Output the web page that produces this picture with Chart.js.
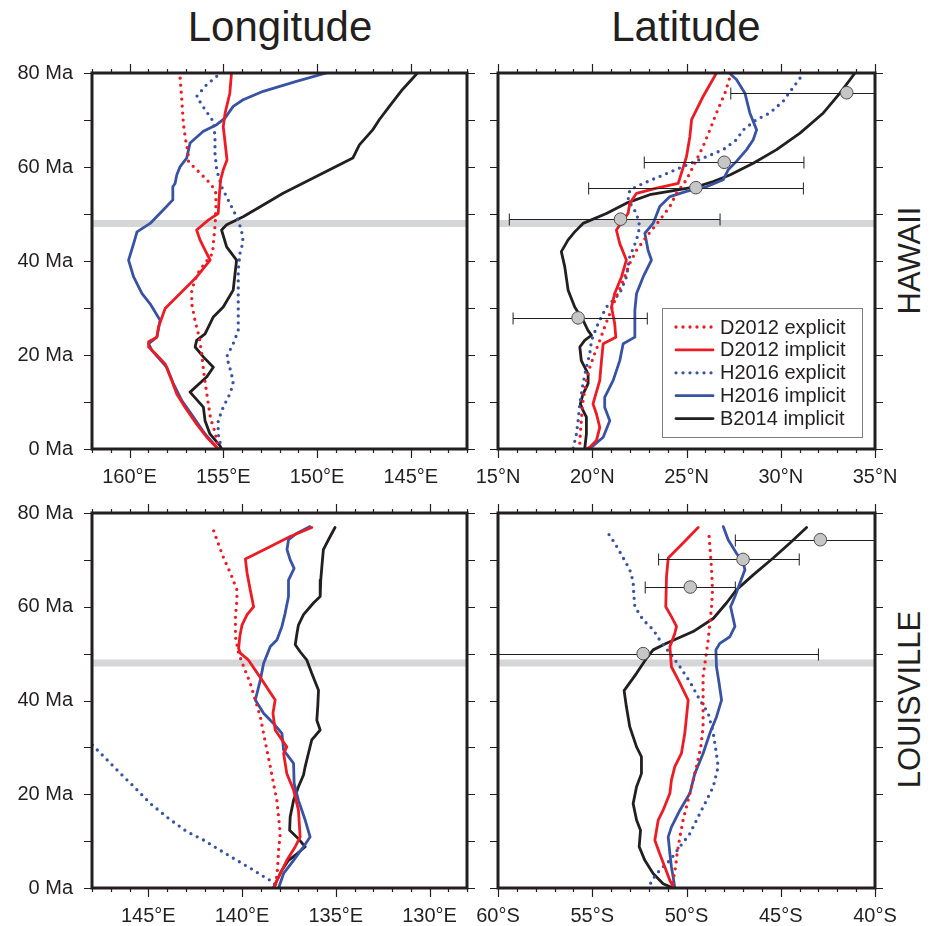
<!DOCTYPE html>
<html>
<head>
<meta charset="utf-8">
<script src="https://cdn.jsdelivr.net/npm/chart.js@4.4.1/dist/chart.umd.min.js"></script>
<style>
  body { margin: 0; background: #fff; width: 934px; height: 926px; position: relative; overflow: hidden;
         font-family: "Liberation Sans", Arial, sans-serif; color: #231f20; }
  canvas { position: absolute; }
  .title { position: absolute; top: 6px; width: 300px; font-size: 42px; line-height: 42px; text-align: center; }
  .side { position: absolute; width: 300px; height: 31px; font-size: 31px; line-height: 31px; text-align: center;
          transform: rotate(-90deg); }
</style>
</head>
<body>
<div class="title" style="left:130px">Longitude</div>
<div class="title" style="left:536px">Latitude</div>
<div class="side" style="left:759px; top:245px">HAWAII</div>
<div class="side" style="left:759px; top:684px">LOUISVILLE</div>

<canvas id="hawLon" width="480" height="500" style="left:0; top:0"></canvas>
<canvas id="hawLat" width="474" height="500" style="left:460px; top:0"></canvas>
<canvas id="louLon" width="480" height="426" style="left:0; top:500px"></canvas>
<canvas id="louLat" width="474" height="426" style="left:460px; top:500px"></canvas>

<script>
// all series are [position, age in Ma]
const seriesNames = ['D2012 explicit', 'D2012 implicit', 'H2016 explicit', 'H2016 implicit', 'B2014 implicit'];

// Hawaii, longitude (deg E)
const hawLonD12exp = [[157.3,78.9],[157.21,74.3],[157.13,69.3],[156.98,65.1],[156.86,62.9],[156.91,61.5],[156.59,60.1],[156.06,58.0],[155.62,56.2],[155.39,54.4],[155.39,50.9],[155.44,47.3],[155.53,43.7],[155.57,41.6],[155.97,39.6],[156.42,37.0],[156.68,33.8],[156.68,30.9],[156.51,27.4],[156.28,23.8],[156.15,20.3],[156.03,16.0],[155.85,11.0],[155.67,6.4],[155.44,3.6],[155.27,0.4]];
const hawLonD12imp = [[154.56,80],[154.65,75.7],[154.9,71.5],[155.0,68.6],[154.9,65.1],[154.8,61.5],[155.0,59.4],[155.14,57.3],[155.2,54.4],[155.27,50.1],[155.8,48.7],[156.42,46.6],[156.24,44.5],[155.97,42.3],[155.7,40.2],[156.42,36.6],[157.3,33.1],[158.1,29.9],[158.45,26.0],[158.54,23.8],[158.98,22.8],[158.98,21.7],[158.63,20.3],[158.1,18.1],[157.75,14.6],[157.48,11.7],[157.04,8.9],[156.42,5.3],[155.88,2.5],[155.44,0.7],[155.27,0]];
const hawLonH16exp = [[155.35,79.3],[155.89,77.5],[156.42,75.0],[155.97,72.2],[155.53,69.7],[155.44,66.5],[155.44,62.9],[155.35,59.4],[155.09,55.8],[154.65,52.3],[154.29,49.4],[154.03,46.6],[153.94,44.1],[154.11,41.6],[154.2,38.1],[154.2,33.1],[154.2,28.1],[154.2,25.2],[154.47,22.4],[154.82,19.6],[154.56,16.0],[154.47,13.9],[154.65,11.7],[155.0,8.9],[155.27,6.0],[155.27,3.2],[155.09,0]];
const hawLonH16imp = [[149.5,80],[151.1,78.2],[152.87,76.1],[153.94,74.3],[154.47,72.9],[154.91,70.4],[155.35,69.0],[156.06,67.6],[156.77,65.1],[156.95,61.9],[157.3,60.1],[157.48,58.3],[157.57,56.5],[157.69,55.8],[157.69,53.0],[158.19,50.9],[158.9,48.0],[159.6,46.2],[159.78,43.7],[160.05,40.2],[159.78,36.6],[159.34,33.1],[158.9,30.9],[158.37,27.4],[158.54,23.8],[158.98,22.4],[158.81,21.0],[158.01,17.4],[157.66,13.9],[157.21,10.3],[156.59,6.8],[155.97,3.2],[155.27,0]];
const hawLonB14imp = [[144.64,80],[145.44,76.5],[146.14,72.9],[146.67,70.1],[147.03,67.9],[147.74,64.7],[148.09,61.9],[149.33,59.4],[150.57,56.9],[151.81,54.4],[152.87,51.9],[153.94,49.4],[154.82,47.7],[155.09,46.6],[154.82,43.0],[154.29,40.2],[154.47,33.8],[155.0,30.2],[155.53,28.1],[155.97,24.5],[156.42,23.1],[156.5,21.7],[156.06,19.6],[155.53,17.4],[155.89,15.3],[156.77,12.1],[156.06,8.9],[155.97,6.0],[155.71,3.2],[155.18,0.7],[155.09,0]];

// Hawaii, latitude (deg N)
const hawLatD12exp = [[27.27,78.7],[27.04,75.7],[26.59,71.5],[26.24,67.9],[25.88,64.4],[25.53,61.5],[25.0,57.3],[24.47,54.4],[24.12,51.6],[23.58,48.7],[22.88,45.2],[22.35,42.3],[21.99,39.5],[21.64,35.9],[21.28,32.4],[20.93,28.8],[20.66,26.0],[20.4,23.1],[20.13,20.3],[19.87,17.4],[19.69,14.6],[19.51,10.3],[19.42,6.0],[19.34,1.8],[19.34,0]];
const hawLatD12imp = [[26.59,80],[25.88,75.0],[25.27,70.1],[25.18,66.5],[25.0,62.2],[24.73,58.7],[24.56,56.5],[23.41,55.5],[22.35,54.4],[21.99,52.3],[21.9,50.1],[21.64,48.7],[21.28,46.6],[21.46,43.7],[21.81,40.2],[21.55,36.6],[21.19,33.1],[21.02,30.2],[21.19,26.7],[21.25,23.8],[20.58,22.4],[20.49,18.8],[20.4,14.6],[20.04,9.6],[20.22,7.5],[20.4,4.6],[20.22,1.8],[19.87,0.4],[19.69,0]];
const hawLatH16exp = [[31.02,78.9],[30.58,76.5],[30.13,74.0],[29.42,71.5],[28.72,70.1],[28.01,67.9],[27.65,65.8],[26.95,63.7],[25.88,61.9],[24.82,60.1],[23.76,58.3],[22.7,56.5],[21.99,55.1],[21.9,53.0],[22.35,50.1],[22.52,47.3],[22.35,44.5],[21.99,40.9],[21.81,36.6],[21.46,33.1],[20.75,30.2],[20.31,26.7],[19.96,23.1],[19.87,20.3],[19.69,17.4],[19.51,13.9],[19.34,9.6],[19.25,6.0],[19.16,3.2],[18.98,0]];
const hawLatH16imp = [[27.27,80],[27.65,78.6],[28.1,75.7],[28.36,71.5],[28.72,67.9],[28.54,65.8],[28.19,63.7],[27.65,61.2],[27.21,59.4],[26.95,57.3],[26.06,55.8],[25.0,54.8],[24.12,53.7],[23.58,51.6],[23.23,48.0],[22.79,45.9],[22.96,42.3],[23.14,40.2],[22.7,36.6],[22.35,33.1],[22.26,29.5],[22.26,23.8],[21.64,22.4],[21.46,18.8],[21.11,14.6],[20.66,11.0],[20.66,8.9],[20.93,6.0],[20.58,2.5],[19.96,0.4],[19.69,0]];
const hawLatB14imp = [[33.94,80],[33.14,75.7],[32.26,71.5],[31.02,67.2],[29.78,63.7],[28.54,60.8],[27.3,58.3],[26.42,56.9],[25.53,55.8],[24.47,55.1],[23.05,54.1],[21.81,52.3],[20.75,50.1],[19.51,48.0],[19.07,46.2],[18.72,44.5],[18.36,42.0],[18.54,38.8],[18.72,33.8],[19.07,30.2],[19.51,27.4],[19.78,25.2],[19.96,24.2],[19.6,23.1],[19.34,21.7],[19.42,18.8],[19.78,16.0],[19.78,13.9],[19.51,11.7],[19.37,9.6],[19.51,8.2],[19.69,6.8],[19.69,3.2],[19.6,0]];

// Louisville, longitude (deg E)
const louLonD12exp = [[141.51,76.2],[141.24,73.2],[140.98,70.4],[140.62,67.2],[140.27,63.6],[140.27,61.5],[140.35,57.9],[140.35,53.6],[140.18,50.1],[139.91,47.2],[139.56,43.7],[139.29,40.1],[139.02,36.5],[138.85,33.0],[138.67,29.4],[138.49,25.9],[138.32,22.3],[138.14,18.7],[138.05,15.2],[137.96,11.6],[138.05,8.0],[138.1,4.5],[138.17,1.6],[138.23,0]];
const louLonD12imp = [[136.28,76.9],[137.43,75.0],[138.67,72.5],[139.82,70.2],[139.73,67.2],[139.56,63.6],[139.38,60.0],[139.73,58.3],[140.0,56.1],[140.12,53.6],[140.18,51.1],[140.09,50.1],[139.65,48.6],[138.94,44.4],[138.23,40.1],[138.35,37.3],[138.23,33.7],[137.87,31.6],[137.61,30.1],[137.78,28.7],[137.61,24.4],[137.25,20.9],[136.99,16.6],[136.9,10.9],[137.16,8.8],[137.61,5.9],[138.14,1.6],[138.32,0]];
const louLonH16exp = [[147.98,30.5],[147.36,28.0],[146.65,25.1],[145.76,21.6],[144.88,18.0],[143.9,14.8],[142.93,12.0],[142.04,10.2],[141.15,8.0],[140.27,5.9],[139.38,3.8],[138.67,2.0],[138.32,1.3],[138.14,0]];
const louLonH16imp = [[136.37,77.1],[137.07,75.7],[137.52,74.3],[137.6,72.2],[137.43,70.0],[137.22,68.2],[137.52,65.7],[137.52,62.2],[137.7,58.6],[137.87,55.8],[138.14,52.9],[138.49,51.5],[138.85,47.9],[139.02,44.4],[139.29,40.1],[138.85,37.3],[138.32,35.1],[137.87,33.0],[137.78,29.4],[137.25,26.6],[137.22,22.3],[136.99,18.7],[136.63,14.5],[136.37,10.9],[136.72,8.8],[137.25,5.9],[137.78,3.1],[138.05,0]];
const louLonB14imp = [[135.04,76.9],[135.39,74.3],[135.66,72.2],[135.74,68.6],[135.8,65.7],[135.83,62.2],[136.19,60.8],[136.72,58.3],[136.99,56.1],[137.07,54.3],[137.16,51.9],[136.9,50.4],[136.54,48.6],[136.28,45.8],[135.92,42.2],[135.96,38.7],[136.01,35.8],[135.83,33.7],[136.28,31.6],[136.46,28.7],[136.63,25.9],[136.72,24.1],[136.99,21.6],[137.25,18.7],[137.43,15.2],[137.46,12.3],[136.99,10.5],[136.63,8.8],[137.07,7.3],[137.52,5.9],[137.87,3.8],[138.14,1.6],[138.32,0]];

// Louisville, latitude (negative = S)
const louLatD12exp = [[-48.8,75.0],[-48.73,71.4],[-48.67,67.9],[-48.62,63.6],[-48.67,60.0],[-48.76,56.5],[-48.85,52.9],[-48.97,49.4],[-49.12,45.1],[-49.12,40.1],[-49.12,34.4],[-49.24,30.1],[-49.47,25.9],[-49.82,20.2],[-50.18,14.5],[-50.35,10.9],[-50.5,7.3],[-50.58,4.5],[-50.71,1.6],[-50.8,0]];
const louLatD12imp = [[-49.38,76.9],[-50.18,73.6],[-50.97,70.4],[-51.06,66.5],[-51.1,60.0],[-50.8,57.9],[-50.53,55.8],[-50.62,54.3],[-50.88,51.5],[-50.8,47.2],[-50.35,43.7],[-49.91,40.1],[-50.0,36.5],[-50.09,33.0],[-50.27,28.7],[-50.62,25.9],[-50.8,23.0],[-50.88,20.2],[-51.24,16.6],[-51.5,14.5],[-51.68,10.2],[-51.42,7.3],[-51.15,4.5],[-50.88,1.6],[-50.67,0]];
const louLatH16exp = [[-54.11,75.4],[-53.81,73.6],[-53.45,71.1],[-53.01,67.9],[-52.83,65.4],[-52.8,62.9],[-52.74,60.0],[-52.3,57.2],[-51.77,55.1],[-51.42,52.9],[-50.88,50.1],[-50.35,47.2],[-49.82,44.0],[-49.29,40.1],[-48.85,37.3],[-48.58,33.0],[-48.44,29.4],[-48.32,25.9],[-48.58,21.6],[-48.94,18.7],[-49.38,15.2],[-49.82,11.6],[-50.35,8.8],[-50.88,5.9],[-51.42,3.8],[-51.77,2.0],[-52.04,0]];
const louLatH16imp = [[-48.05,77.1],[-47.79,74.3],[-47.35,71.4],[-46.99,69.3],[-46.9,67.9],[-47.17,65.0],[-47.43,62.2],[-47.66,60.0],[-47.43,55.8],[-47.7,53.6],[-48.23,52.2],[-48.44,50.8],[-48.41,47.2],[-48.27,43.7],[-48.14,40.1],[-48.41,36.5],[-48.76,33.0],[-49.12,28.7],[-49.56,24.4],[-49.82,20.2],[-50.35,16.6],[-50.8,13.0],[-50.97,10.9],[-50.88,7.3],[-50.8,4.5],[-50.71,2.4],[-50.62,0]];
const louLatB14imp = [[-43.63,76.9],[-44.51,73.6],[-45.4,70.4],[-46.46,66.8],[-47.35,63.6],[-47.88,60.8],[-48.58,57.5],[-49.65,54.7],[-51.06,52.2],[-51.77,50.8],[-52.12,49.0],[-52.65,45.8],[-53.31,42.1],[-53.19,38.7],[-53.01,34.4],[-52.65,30.1],[-52.39,28.0],[-52.39,24.4],[-52.65,21.6],[-52.83,18.0],[-52.65,14.5],[-52.44,12.3],[-52.51,8.8],[-52.21,5.9],[-51.77,3.1],[-51.24,0.9],[-50.71,0]];

// paleolatitude observations: age, value, error bar ends
const hawObsAge = [75.8, 61.0, 55.6, 48.9, 27.9];
const hawObsLat = [33.5, 27.0, 25.5, 21.5, 19.25];
const hawObsLo  = [27.35, 22.76, 19.81, 15.6, 15.8];
const hawObsHi  = [39.6, 31.23, 31.2, 26.78, 22.92];
const louObsAge = [74.3, 70.1, 64.2, 50.0];
const louObsLat = [-42.9, -47.0, -49.8, -52.3];
const louObsLo  = [-47.41, -51.48, -52.19, -61.6];
const louObsHi  = [-38.4, -44.02, -47.41, -43.0];

const bandAge = 48;
const ageTicks = [0, 20, 40, 60, 80];
const hawLonTicks = [160, 155, 150, 145];
const hawLatTicks = [15, 20, 25, 30, 35];
const louLonTicks = [145, 140, 135, 130];
const louLatTicks = [-60, -55, -50, -45, -40];

const red = '#ed1c24', blue = '#3953a4', black = '#231f20';
const styles = [
  { color: red, dotted: true },
  { color: red, dotted: false },
  { color: blue, dotted: true },
  { color: blue, dotted: false },
  { color: black, dotted: false }
];
const FONT = '"Liberation Sans", Arial, sans-serif';
Chart.defaults.font.family = FONT;
Chart.defaults.color = black;

function lineSet(points, i) {
  const s = styles[i];
  return {
    label: seriesNames[i],
    data: points.map(p => ({ x: p[0], y: p[1] })),
    showLine: true,
    borderColor: s.color,
    borderWidth: s.dotted ? 3.3 : 2.8,
    borderDash: s.dotted ? [0, 7] : [],
    borderCapStyle: 'round',
    borderJoinStyle: 'round',
    pointRadius: 0,
    tension: 0
  };
}

function drawObs(chart, obs) {
  const { ctx, chartArea: a, scales: { x, y } } = chart;
  ctx.save();
  ctx.beginPath();
  ctx.rect(a.left, a.top, a.right - a.left, a.bottom - a.top);
  ctx.clip();
  ctx.strokeStyle = black;
  ctx.lineWidth = 1;
  obs.age.forEach((age, i) => {
    const py = Math.round(y.getPixelForValue(age)) + 0.5;
    const x0 = x.getPixelForValue(obs.lo[i]), x1 = x.getPixelForValue(obs.hi[i]);
    ctx.beginPath();
    ctx.moveTo(x0, py); ctx.lineTo(x1, py);
    ctx.moveTo(x0, py - 6); ctx.lineTo(x0, py + 6);
    ctx.moveTo(x1, py - 6); ctx.lineTo(x1, py + 6);
    ctx.stroke();
  });
  obs.age.forEach((age, i) => {
    ctx.beginPath();
    ctx.arc(x.getPixelForValue(obs.val[i]), y.getPixelForValue(age), 6.3, 0, Math.PI * 2);
    ctx.fillStyle = '#c6c6c6';
    ctx.fill();
    ctx.strokeStyle = '#4d4d4d';
    ctx.stroke();
  });
  ctx.restore();
}

function drawLegend(chart) {
  const { ctx, chartArea: a } = chart;
  const bx = a.left + 164, by = a.top + 235, bw = 200, bh = 129;
  ctx.save();
  ctx.fillStyle = '#fff';
  ctx.fillRect(bx, by, bw, bh);
  ctx.strokeStyle = '#7f7f7f';
  ctx.lineWidth = 1;
  ctx.strokeRect(bx + 0.5, by + 0.5, bw, bh);
  ctx.font = '20px ' + FONT;
  ctx.textBaseline = 'middle';
  chart.data.datasets.forEach((ds, i) => {
    const ry = by + 19 + i * 22.9;
    ctx.strokeStyle = ds.borderColor;
    ctx.lineWidth = ds.borderWidth;
    ctx.lineCap = 'round';
    ctx.setLineDash(ds.borderDash);
    ctx.beginPath();
    ctx.moveTo(bx + 14, ry); ctx.lineTo(bx + 51, ry);
    ctx.stroke();
    ctx.setLineDash([]);
    ctx.fillStyle = black;
    ctx.fillText(ds.label, bx + 58, ry + 1);
  });
  ctx.restore();
}

function drawFrame(chart) {
  const { ctx, chartArea: a, scales: { x, y } } = chart;
  ctx.save();
  ctx.strokeStyle = black;
  ctx.lineWidth = 1.2;
  ctx.beginPath();
  const lo = Math.ceil(Math.min(x.min, x.max)), hi = Math.floor(Math.max(x.min, x.max));
  for (let v = lo; v <= hi; v++) {
    const px = Math.round(x.getPixelForValue(v)) + 0.5;
    const len = v % 5 === 0 ? 9 : 4;
    ctx.moveTo(px, a.bottom); ctx.lineTo(px, a.bottom + len);
    ctx.moveTo(px, a.top); ctx.lineTo(px, a.top - len);
  }
  for (let v = 0; v <= 80; v += 10) {
    const py = Math.round(y.getPixelForValue(v)) + 0.5;
    ctx.moveTo(a.left - 8, py); ctx.lineTo(a.left, py);
    ctx.moveTo(a.right, py); ctx.lineTo(a.right + 8, py);
  }
  ctx.stroke();
  ctx.lineWidth = 3;
  ctx.strokeRect(a.left, a.top, a.right - a.left, a.bottom - a.top);
  ctx.restore();
}

function decor(cfg) {
  return {
    id: 'decor',
    beforeDatasetsDraw(chart) {
      const { ctx, chartArea: a, scales: { y } } = chart;
      const py = y.getPixelForValue(bandAge);
      ctx.save();
      ctx.strokeStyle = '#d5d6d8';
      ctx.lineWidth = 7;
      ctx.beginPath();
      ctx.moveTo(a.left, py); ctx.lineTo(a.right, py);
      ctx.stroke();
      ctx.restore();
    },
    afterDatasetsDraw(chart) {
      if (cfg.obs) drawObs(chart, cfg.obs);
      if (cfg.legend) drawLegend(chart);
      drawFrame(chart);
    }
  };
}

function makePanel(id, cfg) {
  new Chart(document.getElementById(id), {
    type: 'scatter',
    data: { datasets: cfg.sets.map((pts, i) => lineSet(pts, i)) },
    options: {
      responsive: false,
      animation: false,
      devicePixelRatio: 1,
      layout: { padding: cfg.pad },
      plugins: { legend: { display: false }, tooltip: { enabled: false } },
      scales: {
        x: {
          type: 'linear', min: cfg.xMin, max: cfg.xMax, reverse: !!cfg.reverse,
          grid: { display: false }, border: { display: false },
          ticks: { font: { size: 20 }, padding: 8, autoSkip: false, maxRotation: 0, callback: cfg.fmt },
          afterBuildTicks: s => { s.ticks = cfg.xTicks.map(v => ({ value: v })); },
          afterFit: s => { s.height = cfg.xH; s.paddingLeft = 0; s.paddingRight = 0; }
        },
        y: {
          type: 'linear', min: 0, max: 80,
          grid: { display: false }, border: { display: false },
          ticks: { display: cfg.yLabels, font: { size: 20 }, padding: 11, callback: v => v + ' Ma' },
          afterBuildTicks: s => { s.ticks = ageTicks.map(v => ({ value: v })); },
          afterFit: s => { s.width = cfg.yW; s.paddingTop = 0; s.paddingBottom = 0; }
        }
      }
    },
    plugins: [decor(cfg)]
  });
}

makePanel('hawLon', {
  sets: [hawLonD12exp, hawLonD12imp, hawLonH16exp, hawLonH16imp, hawLonB14imp],
  xMin: 142, xMax: 162, reverse: true, xTicks: hawLonTicks, fmt: v => v + '°E',
  pad: { left: 0, right: 13, top: 73, bottom: 0 }, yW: 92, xH: 51, yLabels: true
});
makePanel('hawLat', {
  sets: [hawLatD12exp, hawLatD12imp, hawLatH16exp, hawLatH16imp, hawLatB14imp],
  xMin: 15, xMax: 35, xTicks: hawLatTicks, fmt: v => v + '°N',
  pad: { left: 0, right: 59, top: 73, bottom: 0 }, yW: 38, xH: 51, yLabels: false,
  obs: { age: hawObsAge, val: hawObsLat, lo: hawObsLo, hi: hawObsHi }, legend: true
});
makePanel('louLon', {
  sets: [louLonD12exp, louLonD12imp, louLonH16exp, louLonH16imp, louLonB14imp],
  xMin: 128, xMax: 148, reverse: true, xTicks: louLonTicks, fmt: v => v + '°E',
  pad: { left: 0, right: 13, top: 13, bottom: 0 }, yW: 92, xH: 38, yLabels: true
});
makePanel('louLat', {
  sets: [louLatD12exp, louLatD12imp, louLatH16exp, louLatH16imp, louLatB14imp],
  xMin: -60, xMax: -40, xTicks: louLatTicks, fmt: v => Math.abs(v) + '°S',
  pad: { left: 0, right: 59, top: 13, bottom: 0 }, yW: 38, xH: 38, yLabels: false,
  obs: { age: louObsAge, val: louObsLat, lo: louObsLo, hi: louObsHi }
});
</script>
</body>
</html>
